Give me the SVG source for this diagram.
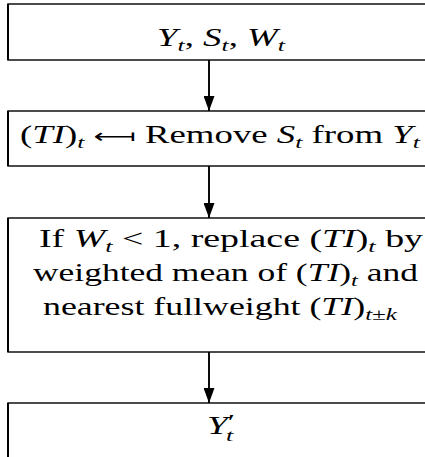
<svg xmlns="http://www.w3.org/2000/svg" width="425" height="457" viewBox="0 0 425 457">
<defs>
<style>
.box{fill:#fff;stroke:#000;stroke-width:1.4}
.v{stroke:#000;stroke-width:2}
.t{font-family:"Liberation Serif","Times New Roman",serif;font-size:25px;fill:#000}
.i{font-style:italic}
.s{font-size:17.5px;font-style:italic}
.c{stroke:#000;stroke-width:1.9;fill:none}
.ar{font-family:"DejaVu Sans",sans-serif;font-size:20px}
</style>
<marker id="ah" viewBox="0 0 11 15" refX="5.5" refY="15" markerWidth="11" markerHeight="15" markerUnits="userSpaceOnUse" orient="0">
<path d="M0,0 L11,0 L5.5,15 Z" fill="#000"/>
</marker>
</defs>
<rect width="425" height="457" fill="#fff"/>
<g id="connectors">
<line class="c" x1="209" y1="60" x2="209" y2="111" marker-end="url(#ah)"/>
<line class="c" x1="209" y1="166" x2="209" y2="218" marker-end="url(#ah)"/>
<line class="c" x1="209" y1="352" x2="209" y2="403" marker-end="url(#ah)"/>
</g>
<g id="node1">
<rect class="box" x="8" y="4" width="432" height="56"/>
<line class="v" x1="8" y1="4" x2="8" y2="60"/>
<text class="t" x="157" y="46" textLength="128" lengthAdjust="spacingAndGlyphs"><tspan class="i">Y</tspan><tspan class="s" dy="5">t</tspan><tspan dy="-5">, </tspan><tspan class="i">S</tspan><tspan class="s" dy="5">t</tspan><tspan dy="-5">, </tspan><tspan class="i">W</tspan><tspan class="s" dy="5">t</tspan></text>
</g>
<g id="node2">
<rect class="box" x="8" y="111" width="432" height="55"/>
<line class="v" x1="8" y1="111" x2="8" y2="166"/>
<text class="t" x="20" y="143" textLength="400" lengthAdjust="spacingAndGlyphs">(<tspan class="i">TI</tspan>)<tspan class="s" dy="5">t</tspan><tspan dy="-5"> </tspan><tspan class="ar">⟻</tspan> Remove <tspan class="i">S</tspan><tspan class="s" dy="5">t</tspan><tspan dy="-5"> from </tspan><tspan class="i">Y</tspan><tspan class="s" dy="5">t</tspan></text>
</g>
<g id="node3">
<rect class="box" x="8" y="218" width="432" height="134"/>
<line class="v" x1="8" y1="218" x2="8" y2="352"/>
<text class="t" x="39" y="247" textLength="384" lengthAdjust="spacingAndGlyphs">If <tspan class="i">W</tspan><tspan class="s" dy="5">t</tspan><tspan dy="-5"> &lt; 1, replace (</tspan><tspan class="i">TI</tspan>)<tspan class="s" dy="5">t</tspan><tspan dy="-5"> by</tspan></text>
<text class="t" x="33" y="281" textLength="385" lengthAdjust="spacingAndGlyphs">weighted mean of (<tspan class="i">TI</tspan>)<tspan class="s" dy="5">t</tspan><tspan dy="-5"> and</tspan></text>
<text class="t" x="43" y="315" textLength="354" lengthAdjust="spacingAndGlyphs">nearest fullweight (<tspan class="i">TI</tspan>)<tspan class="s" dy="5">t±k</tspan></text>
</g>
<g id="node4">
<rect class="box" x="8" y="403" width="432" height="70"/>
<line class="v" x1="8" y1="403" x2="8" y2="457"/>
<text class="t" x="207" y="434" textLength="28" lengthAdjust="spacingAndGlyphs"><tspan class="i">Y</tspan><tspan font-size="22" dy="-5">′</tspan><tspan class="s" dx="-6" dy="12">t</tspan></text>
</g>
</svg>
